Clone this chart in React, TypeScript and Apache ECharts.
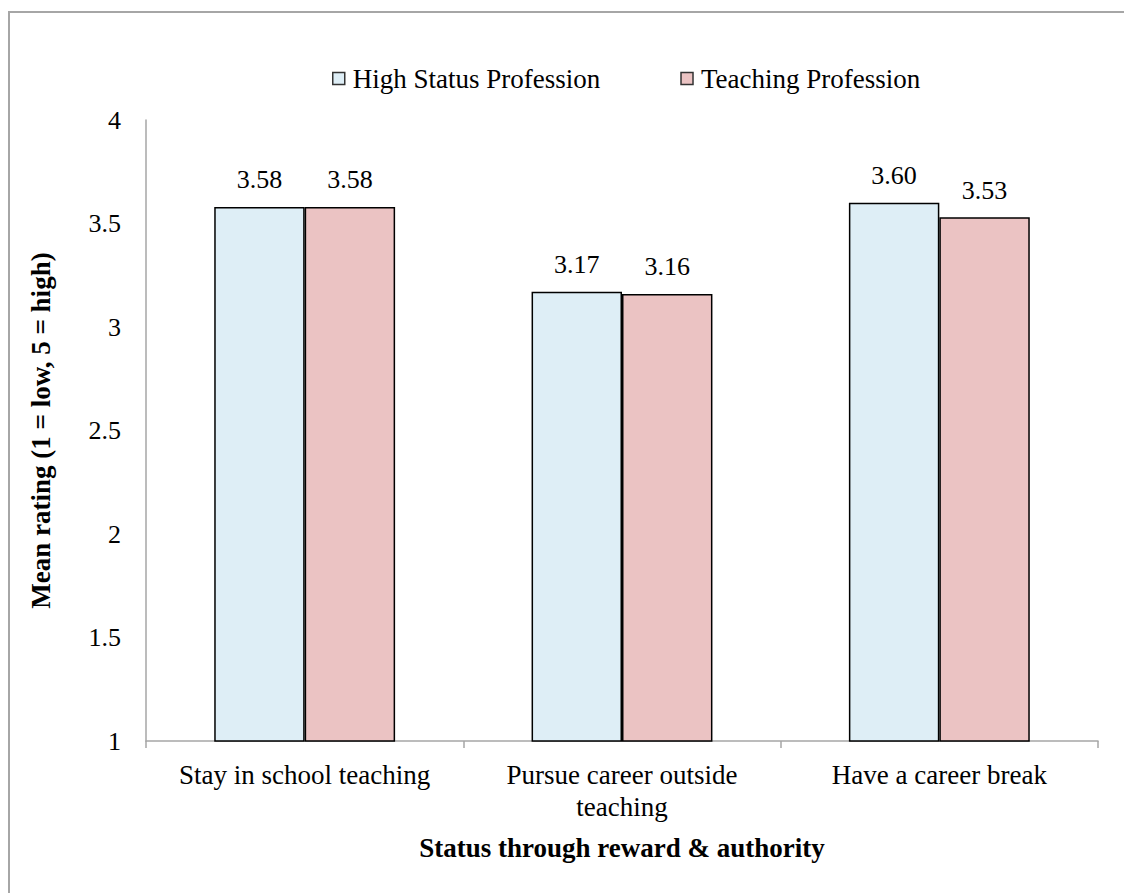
import React, { useEffect, useRef } from "react";
import * as echarts from "echarts";

const categories = ["Stay in school teaching", "Pursue career outside\nteaching", "Have a career break"];
const highStatus = [3.58, 3.17, 3.6];
const teaching = [3.58, 3.16, 3.53];
const seriesNames = ["High Status Profession", "Teaching Profession"];
const yTicks = { min: 1, max: 4, interval: 0.5 };

const FONT = "'Liberation Serif', 'Times New Roman', serif";
const FS = 26;
const FS_L = 27;

export default function App() {
  const ref = useRef<HTMLDivElement>(null);
  useEffect(() => {
    if (!ref.current) return;
    const chart = echarts.init(ref.current, null, { renderer: "svg" });
    const labelOpt = {
      show: true,
      position: "top" as const,
      distance: 14,
      fontFamily: FONT,
      fontSize: FS,
      color: "#000",
      formatter: (p: any) => Number(p.value).toFixed(2),
    };
    chart.setOption({
      animation: false,
      textStyle: { fontFamily: FONT },
      graphic: [
        { type: "line", shape: { x1: 9, y1: 11, x2: 9, y2: 893 }, style: { stroke: "#a6a6a6", lineWidth: 2 } },
        { type: "line", shape: { x1: 8, y1: 12, x2: 1124, y2: 12 }, style: { stroke: "#a6a6a6", lineWidth: 2 } },
      ],
      legend: {
        data: seriesNames,
        top: 60,
        left: 327,
        icon: "rect",
        itemWidth: 12,
        itemHeight: 12,
        itemGap: 80,
        itemStyle: { borderColor: "#333", borderWidth: 1.5 },
        textStyle: { fontFamily: FONT, fontSize: FS_L, color: "#000", padding: [0, 0, 0, 3] },
      },
      grid: { left: 146, right: 26, top: 120, bottom: 152, containLabel: false },
      xAxis: {
        type: "category",
        data: categories,
        name: "Status through reward & authority",
        nameLocation: "middle",
        nameGap: 93,
        nameTextStyle: { fontFamily: FONT, fontSize: FS_L, fontWeight: "bold", color: "#000" },
        axisLine: { lineStyle: { color: "#a6a6a6", width: 1.5 } },
        axisTick: { show: true, length: 7, lineStyle: { color: "#a6a6a6", width: 1.5 } },
        axisLabel: { interval: 0, hideOverlap: false, fontFamily: FONT, fontSize: FS_L, color: "#000", margin: 18, lineHeight: 32 },
      },
      yAxis: {
        type: "value",
        min: yTicks.min,
        max: yTicks.max,
        interval: yTicks.interval,
        name: "Mean rating (1 = low, 5 = high)",
        nameLocation: "middle",
        nameGap: 92,
        nameTextStyle: { fontFamily: FONT, fontSize: FS_L, fontWeight: "bold", color: "#000" },
        axisLine: { show: true, lineStyle: { color: "#a6a6a6", width: 1.5 } },
        axisTick: { show: false },
        splitLine: { show: false },
        axisLabel: { fontFamily: FONT, fontSize: FS, color: "#000", margin: 25 },
      },
      series: [
        {
          name: seriesNames[0],
          type: "bar",
          data: highStatus,
          barGap: "0%",
          barCategoryGap: "43%",
          itemStyle: { color: "#deeef6", borderColor: "#000", borderWidth: 1.5 },
          label: labelOpt,
        },
        {
          name: seriesNames[1],
          type: "bar",
          data: teaching,
          itemStyle: { color: "#ebc3c3", borderColor: "#000", borderWidth: 1.5 },
          label: labelOpt,
        },
      ],
    });
    return () => chart.dispose();
  }, []);
  return (
    <div
      ref={ref}
      style={{ position: "absolute", left: 0, top: 0, width: 1124, height: 893, background: "#fff" }}
    />
  );
}
